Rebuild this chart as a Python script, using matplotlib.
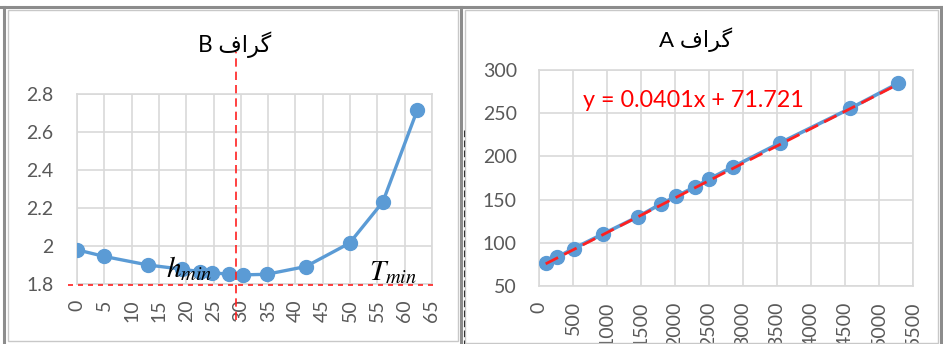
import numpy as np
import matplotlib
matplotlib.use('Agg')
import matplotlib.pyplot as plt
from matplotlib.patches import Rectangle

# chart B data (left panel)
b_x = [0, 5, 13, 19.2, 22.6, 24.7, 27.8, 30.4, 34.7, 41.9, 49.9, 56.0, 62.3]
b_y = [1.98, 1.945, 1.90, 1.878, 1.865, 1.86, 1.851, 1.848, 1.851, 1.892, 2.015, 2.232, 2.715]
b_xticks = list(range(0, 70, 5))
b_yticks = [1.8, 2.0, 2.2, 2.4, 2.6, 2.8]
b_title = 'B \uFED1\uFE8D\uFEAE\uFB94'   # "گراف B" in visual order
b_vline = 29.1
b_hline = 1.8

# chart A data (right panel)
a_x = [98, 269, 509, 935, 1450, 1787, 2022, 2297, 2497, 2855, 3550, 4579, 5279]
a_y = [77, 83.6, 93.3, 110, 130, 144.7, 154, 164.8, 173.6, 188, 215.8, 255.6, 284.5]
a_xticks = list(range(0, 6000, 500))
a_yticks = list(range(50, 350, 50))
a_title = 'A \uFED1\uFE8D\uFEAE\uFB94'   # "گراف A"
a_slope = 0.0401
a_intercept = 71.721

blue = '#5b9bd5'
grid = '#d9d9d9'
label_col = '#595959'
red = '#ff2020'

plt.rcParams['font.family'] = ['Lato', 'DejaVu Sans']
plt.rcParams['mathtext.fontset'] = 'stix'

W, H = 943, 344
fig = plt.figure(figsize=(W / 100, H / 100), dpi=100)


def px_rect(x0, y0, x1, y1, **kw):
    # rectangle given in figure pixels (y from top)
    r = Rectangle((x0 / W, 1 - y1 / H), (x1 - x0) / W, (y1 - y0) / H,
                  transform=fig.transFigure, fill=False, **kw)
    fig.add_artist(r)


def px_line(xs, ys, **kw):
    fig.add_artist(plt.Line2D([x / W for x in xs], [1 - y / H for y in ys],
                              transform=fig.transFigure, **kw))


# panel frames
px_line([0, W], [7, 7], color='#8c8c8c', lw=2.2)
px_line([4, 4], [7, H], color='#8c8c8c', lw=2.2)
px_line([461, 461], [7, H], color='#8c8c8c', lw=2.2)
px_line([941, 941], [7, H], color='#8c8c8c', lw=2.2)
px_line([463.5, 463.5], [130, H], color='#333333', lw=0.8, ls=(0, (6, 3)))
px_rect(8, 10, 458, 341, edgecolor='#c8c8c8', lw=1)
px_rect(465, 10, 938, 343, edgecolor='#c8c8c8', lw=1)


def style_axes(ax):
    for s in ax.spines.values():
        s.set_color(grid)
        s.set_linewidth(1.2)
    ax.grid(True, color=grid, lw=1.2)
    ax.set_axisbelow(True)
    ax.tick_params(length=0, labelsize=14, labelcolor=label_col)


# ---- left: chart B
ax1 = fig.add_axes([77 / W, 1 - 284 / H, 355 / W, 190 / H])
style_axes(ax1)
ax1.plot(b_x, b_y, '-o', color=blue, lw=2.4, ms=10, zorder=3)
ax1.set_xlim(0, 65)
ax1.set_ylim(1.8, 2.8)
ax1.set_xticks(b_xticks)
ax1.set_xticklabels([str(t) for t in b_xticks], rotation=90)
ax1.set_yticks(b_yticks)
ax1.set_yticklabels(['1.8', '2', '2.2', '2.4', '2.6', '2.8'])
ax1.tick_params(axis='y', pad=17)
ax1.tick_params(axis='x', pad=11)
ax1.plot([b_vline, b_vline], [1.61, 3.02], color=red, lw=1.2, ls=(0, (5, 3)),
         clip_on=False, zorder=4)
ax1.plot([-1.6, 65.9], [b_hline - 0.004, b_hline - 0.004], color=red, lw=1.2,
         ls=(0, (3, 3)), clip_on=False, zorder=4)
ax1.text(16.3, 1.835, '$h_{min}$', fontsize=21, ha='left', va='baseline', zorder=5)
ax1.text(53.4, 1.822, '$T_{min}$', fontsize=21, ha='left', va='baseline', zorder=5)
fig.text(235 / W, 1 - 45 / H, b_title, ha='center', va='center', fontsize=16.3,
         color='black')

# ---- right: chart A
ax2 = fig.add_axes([539 / W, 1 - 286 / H, 374 / W, 216 / H])
style_axes(ax2)
ax2.plot(a_x, a_y, '-o', color=blue, lw=2.6, ms=10, zorder=3)
tx = np.array([a_x[0], a_x[-1]])
ax2.plot(tx, a_slope * tx + a_intercept, color=red, lw=2, ls=(0, (5, 2.5)), zorder=4)
ax2.set_xlim(0, 5500)
ax2.set_ylim(50, 300)
ax2.set_xticks(a_xticks)
ax2.set_xticklabels([str(t) for t in a_xticks], rotation=90)
ax2.set_yticks(a_yticks)
ax2.tick_params(axis='y', pad=16)
ax2.tick_params(axis='x', pad=11)
ax2.text(583 / W, 1 - 100 / H, 'y = 0.0401x + 71.721', transform=fig.transFigure,
         ha='left', va='center', fontsize=16.8, color='#ff0000')
fig.text(696 / W, 1 - 40 / H, a_title, ha='center', va='center', fontsize=16,
         color='black')

fig.savefig('out.png', dpi=100)
